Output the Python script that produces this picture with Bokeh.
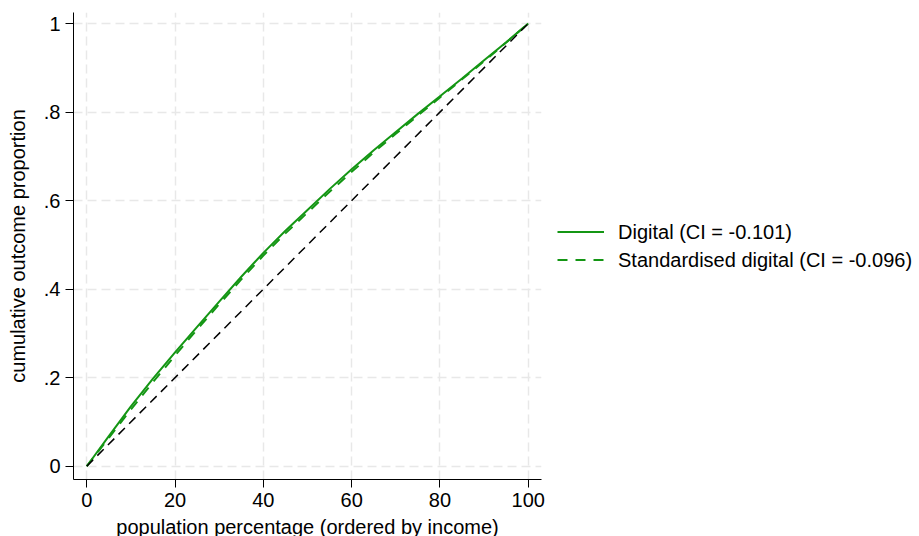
from bokeh.plotting import figure
from bokeh.models import Legend, LegendItem, FixedTicker, CustomJSTickFormatter, Range1d
from bokeh.embed import file_html
from bokeh.resources import INLINE

pop_pct = [0, 5, 10, 15, 20, 25, 30, 35, 40, 45, 50, 55, 60, 65, 70, 75, 80, 85, 90, 95, 100]
digital = [0, 0.068, 0.135, 0.198, 0.257, 0.315, 0.372, 0.428, 0.482, 0.532, 0.579,
           0.626, 0.671, 0.714, 0.755, 0.796, 0.836, 0.876, 0.917, 0.958, 1.0]
std_digital = [0, 0.064, 0.128, 0.190, 0.250, 0.309, 0.366, 0.422, 0.476, 0.526, 0.573,
               0.620, 0.665, 0.709, 0.751, 0.792, 0.833, 0.874, 0.915, 0.957, 1.0]
equality_x = [0, 100]
equality_y = [0, 1]
x_ticks = [0, 20, 40, 60, 80, 100]
y_ticks = [0, 0.2, 0.4, 0.6, 0.8, 1.0]
labels = ["Digital (CI = -0.101)", "Standardised digital (CI = -0.096)"]

FONT = "Liberation Sans"
GREEN = "#149614"

p = figure(width=911, height=536, output_backend="svg", toolbar_location=None,
           x_range=Range1d(-3, 103), y_range=Range1d(-0.03, 1.025),
           frame_width=468, frame_height=467,
           min_border_left=73, min_border_top=12, min_border_right=370, min_border_bottom=57)
p.outline_line_color = None
p.background_fill_color = "white"
p.border_fill_color = "white"

for ax in (p.xaxis[0], p.yaxis[0]):
    ax.axis_line_color = "black"
    ax.axis_line_width = 1
    ax.major_tick_line_color = "black"
    ax.major_tick_out = 8
    ax.major_tick_in = 0
    ax.minor_tick_line_color = None
    ax.major_label_text_font = FONT
    ax.major_label_text_font_size = "20px"
    ax.major_label_text_color = "black"
    ax.axis_label_text_font = FONT
    ax.axis_label_text_font_size = "20px"
    ax.axis_label_text_font_style = "normal"
    ax.axis_label_text_color = "black"

p.xaxis.ticker = FixedTicker(ticks=x_ticks)
p.yaxis.ticker = FixedTicker(ticks=y_ticks)
p.yaxis.formatter = CustomJSTickFormatter(code="""
if (Math.abs(tick) < 1e-9) return "0";
if (Math.abs(tick - 1) < 1e-9) return "1";
return tick.toFixed(1).replace(/^0/, "");
""")
p.yaxis.major_label_orientation = "horizontal"
p.xaxis.axis_label = "population percentage (ordered by income)"
p.yaxis.axis_label = "cumulative outcome proportion"
p.xaxis.major_label_standoff = 5
p.yaxis.major_label_standoff = 5
p.xaxis.axis_label_standoff = 6
p.yaxis.axis_label_standoff = 12

for g in (p.xgrid[0], p.ygrid[0]):
    g.grid_line_color = "#e8e8e8"
    g.grid_line_width = 1.5
    g.grid_line_dash = "9 5"
p.xgrid.ticker = FixedTicker(ticks=x_ticks)
p.ygrid.ticker = FixedTicker(ticks=y_ticks)

r1 = p.line(pop_pct, digital, line_color=GREEN, line_width=2)
r2 = p.line(pop_pct, std_digital, line_color=GREEN, line_width=2, line_dash="10 8")
p.line(equality_x, equality_y, line_color="black", line_width=1.5, line_dash="9 6")

legend = Legend(items=[LegendItem(label=labels[0], renderers=[r1]),
                       LegendItem(label=labels[1], renderers=[r2])],
                location="center_left", orientation="vertical")
legend.label_text_font = FONT
legend.label_text_font_size = "20px"
legend.label_text_color = "black"
legend.glyph_width = 47
legend.glyph_height = 20
legend.label_standoff = 14
legend.spacing = 5
legend.padding = 0
legend.margin = 16
legend.border_line_color = None
legend.background_fill_alpha = 0
p.add_layout(legend, "right")

open("out.html", "w").write(file_html(p, INLINE))
